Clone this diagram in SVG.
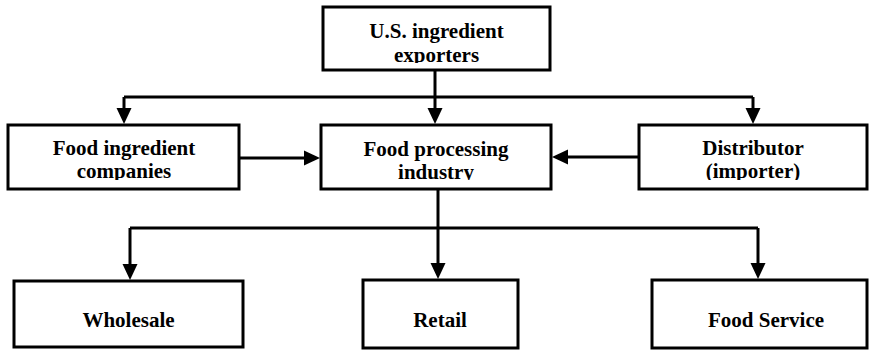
<svg xmlns="http://www.w3.org/2000/svg" width="870" height="352" viewBox="0 0 870 352">
<style>
.box{fill:#fff;stroke:#000;stroke-width:3}
.lbl{font-family:"Liberation Serif","Times New Roman",serif;font-weight:bold;font-size:21px;fill:#000;text-anchor:middle}
.ln{fill:none;stroke:#000;stroke-width:3}
.arr{marker-end:url(#ah)}
</style>
<defs>
<marker id="ah" markerUnits="userSpaceOnUse" markerWidth="16" markerHeight="16" refX="6" refY="8" orient="auto">
<path d="M0,0.5 L16,8 L0,15.5 z" fill="#000"/>
</marker>
<clipPath id="cTop"><rect x="323" y="8" width="227" height="55"/></clipPath>
<clipPath id="cLeft"><rect x="9" y="126" width="229" height="54"/></clipPath>
<clipPath id="cCenter"><rect x="322" y="126" width="228" height="54"/></clipPath>
<clipPath id="cRight"><rect x="640" y="126" width="226" height="54"/></clipPath>
</defs>
<rect width="870" height="352" fill="#fff"/>
<g id="connectors">
<path class="ln arr" d="M435,71 V114"/>
<path class="ln" d="M124,97 H753"/>
<path class="ln arr" d="M124,97 V114"/>
<path class="ln arr" d="M753,97 V114"/>
<path class="ln arr" d="M240,158 H310"/>
<path class="ln arr" d="M638,157 H562"/>
<path class="ln arr" d="M438,190 V269"/>
<path class="ln" d="M130,228 H758"/>
<path class="ln arr" d="M130,228 V270"/>
<path class="ln arr" d="M758,228 V269"/>
</g>
<g id="us-exporters">
<rect class="box" x="323" y="7" width="227" height="63"/>
<g clip-path="url(#cTop)">
<text class="lbl" x="436.5" y="38">U.S. ingredient</text>
<text class="lbl" x="436.5" y="62">exporters</text>
</g>
</g>
<g id="food-ingredient-companies">
<rect class="box" x="8" y="125" width="231" height="64"/>
<g clip-path="url(#cLeft)">
<text class="lbl" x="124" y="155">Food ingredient</text>
<text class="lbl" x="124" y="178">companies</text>
</g>
</g>
<g id="food-processing-industry">
<rect class="box" x="321" y="125" width="230" height="64"/>
<g clip-path="url(#cCenter)">
<text class="lbl" x="436" y="156">Food processing</text>
<text class="lbl" x="436" y="179">industry</text>
</g>
</g>
<g id="distributor">
<rect class="box" x="639" y="125" width="228" height="64"/>
<g clip-path="url(#cRight)">
<text class="lbl" x="753" y="155">Distributor</text>
<text class="lbl" x="753" y="178">(importer)</text>
</g>
</g>
<g id="wholesale">
<rect class="box" x="14" y="281" width="229" height="66"/>
<text class="lbl" x="128.5" y="327">Wholesale</text>
</g>
<g id="retail">
<rect class="box" x="363" y="280" width="155" height="68"/>
<text class="lbl" x="440" y="327">Retail</text>
</g>
<g id="food-service">
<rect class="box" x="652" y="280" width="215" height="68"/>
<text class="lbl" x="766" y="327">Food Service</text>
</g>
</svg>
